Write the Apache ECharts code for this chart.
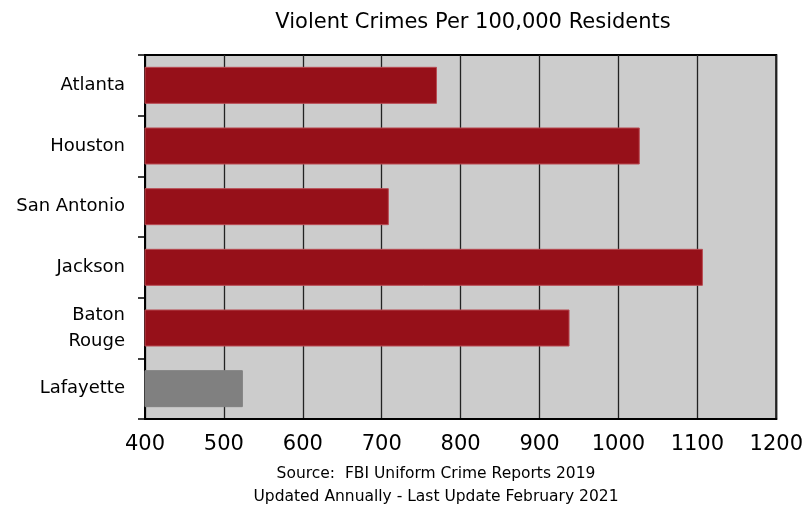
<!DOCTYPE html>
<html><head><meta charset="utf-8">
<script src="https://cdn.jsdelivr.net/npm/echarts@6/dist/echarts.min.js"></script>
<style>html,body{margin:0;padding:0;background:#fff}#c{width:806px;height:506px}</style>
</head><body><div id="c"></div>
<script>
const categories = ["Atlanta", "Houston", "San Antonio", "Jackson", "Baton\nRouge", "Lafayette"];
const values = [770, 1027, 709, 1107, 938, 524];
const barColors = ["#961019", "#961019", "#961019", "#961019", "#961019", "#808080"];
const xTicks = [400, 500, 600, 700, 800, 900, 1000, 1100, 1200];
const titleText = "Violent Crimes Per 100,000 Residents";
const sourceLines = ["Source:  FBI Uniform Crime Reports 2019", "Updated Annually - Last Update February 2021"];

const font = "'DejaVu Sans', sans-serif";
const chart = echarts.init(document.getElementById('c'), null, {renderer: 'canvas'});
chart.setOption({
  animation: false,
  backgroundColor: '#fff',
  title: [
    {text: titleText, left: 468, top: 7, textAlign: 'center',
     textStyle: {fontFamily: font, fontSize: 21, fontWeight: 'normal', color: '#000'}},
    {text: sourceLines.join('\n'), left: 431, top: 457, textAlign: 'center',
     textStyle: {fontFamily: font, fontSize: 15.5, fontWeight: 'normal', color: '#000', lineHeight: 23}}
  ],
  grid: {left: 145, right: 29, top: 55, bottom: 87, show: true, backgroundColor: '#cccccc',
         borderColor: '#000', borderWidth: 2},
  xAxis: {
    type: 'value', min: xTicks[0], max: xTicks[xTicks.length - 1], interval: 100,
    axisLine: {show: true, lineStyle: {color: '#000', width: 2}},
    axisTick: {show: false},
    splitLine: {show: true, lineStyle: {color: '#222', width: 1.3}},
    axisLabel: {fontFamily: font, fontSize: 21, color: '#000', margin: 15,
                formatter: v => String(v)}
  },
  yAxis: {
    type: 'category', data: categories, inverse: true,
    axisLine: {show: true, lineStyle: {color: '#000', width: 2}},
    axisTick: {show: true, length: 7, lineStyle: {color: '#000', width: 1.5}},
    axisLabel: {fontFamily: font, fontSize: 18, color: '#000', margin: 20, lineHeight: 26, align: 'right'},
    splitLine: {show: false}
  },
  series: [{
    type: 'bar', barWidth: '61%',
    data: values.map((v, i) => ({value: v, itemStyle: {color: barColors[i],
      borderColor: i < 5 ? '#b84a52' : barColors[i], borderWidth: 1}}))
  }]
});
</script></body></html>
